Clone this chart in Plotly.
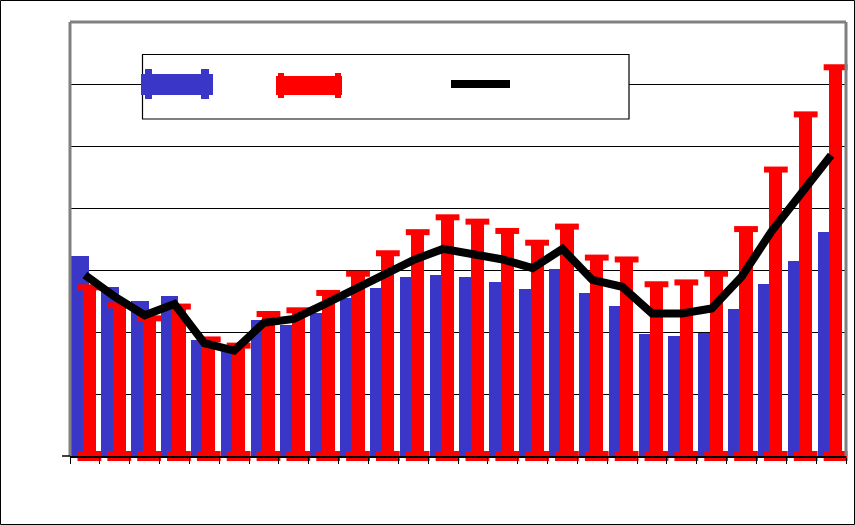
import plotly.graph_objects as go

# ---- data ----
categories = list(range(26))
blue_values = [3.23, 2.73, 2.50, 2.58, 1.87, 1.74, 2.19, 2.11, 2.30, 2.55, 2.71, 2.89, 2.92,
               2.89, 2.81, 2.69, 3.02, 2.63, 2.42, 1.97, 1.94, 1.99, 2.37, 2.77, 3.15, 3.61]
red_values = [2.72, 2.43, 2.22, 2.41, 1.88, 1.78, 2.29, 2.35, 2.63, 2.94, 3.27, 3.61, 3.85,
              3.78, 3.63, 3.44, 3.70, 3.20, 3.17, 2.77, 2.80, 2.94, 3.66, 4.62, 5.51, 6.27]
line_values = [2.92, 2.57, 2.27, 2.45, 1.82, 1.70, 2.15, 2.21, 2.44, 2.68, 2.89, 3.16, 3.34,
               3.27, 3.17, 3.03, 3.34, 2.84, 2.73, 2.30, 2.30, 2.38, 2.89, 3.62, 4.24, 4.85]
y_ticks = [0, 1, 2, 3, 4, 5, 6, 7]

# ---- styling ----
W, H = 855, 525
ML, MR, MT, MB = 70, 9, 22, 69
PW, PH = W - ML - MR, H - MT - MB
BLUE = "#3a37c8"
RED = "#ff0000"
GRAY = "#808080"

BLUE_OFF, BLUE_W = -0.45, 0.58
RED_OFF, RED_W = -0.07, 0.44
red_center = [c + RED_OFF + RED_W / 2 for c in categories]


def px_x(X):
    return (X - ML) / PW


def px_y(Y):
    return (H - MB - Y) / PH


fig = go.Figure()
fig.add_trace(go.Bar(x=categories, y=blue_values, width=BLUE_W, offset=BLUE_OFF,
                     marker=dict(color=BLUE, line=dict(width=0)), showlegend=False))
fig.add_trace(go.Bar(x=categories, y=red_values, width=RED_W, offset=RED_OFF,
                     marker=dict(color=RED, line=dict(width=0)), showlegend=False))
# rounded-looking caps on red bars
fig.add_trace(go.Scatter(x=red_center, y=red_values, mode="markers", cliponaxis=False,
                         marker=dict(symbol="line-ew", size=17, line=dict(color=RED, width=6)),
                         showlegend=False, hoverinfo="skip"))
# blobs under the baseline
fig.add_trace(go.Scatter(x=red_center, y=[0] * len(categories), mode="markers", cliponaxis=False,
                         marker=dict(symbol="line-ew", size=17, line=dict(color=RED, width=10)),
                         showlegend=False, hoverinfo="skip"))
fig.add_trace(go.Scatter(x=categories, y=line_values, mode="lines",
                         line=dict(color="black", width=8), showlegend=False))

shapes = []
# outer border
shapes.append(dict(type="rect", xref="paper", yref="paper",
                   x0=px_x(0.5), x1=px_x(W - 0.5), y0=px_y(H - 0.5), y1=px_y(0.5),
                   line=dict(color="black", width=1), layer="above"))
# gray frame: left, top, right
for x0, y0, x1, y1 in [(0, 0, 0, 1), (0, 1, 1, 1), (1, 0, 1, 1)]:
    shapes.append(dict(type="line", xref="paper", yref="paper", x0=x0, y0=y0, x1=x1, y1=y1,
                       line=dict(color=GRAY, width=3), layer="above"))
# baseline extension to the left
shapes.append(dict(type="line", xref="paper", yref="paper", x0=px_x(62), x1=0, y0=0, y1=0,
                   line=dict(color="black", width=1.5)))
# legend box
shapes.append(dict(type="rect", xref="paper", yref="paper",
                   x0=px_x(142.5), x1=px_x(629), y0=px_y(119), y1=px_y(54.5),
                   line=dict(color="black", width=1.2), fillcolor="white", layer="above"))
# blue swatch
shapes.append(dict(type="rect", xref="paper", yref="paper", x0=px_x(141), x1=px_x(213),
                   y0=px_y(95), y1=px_y(74), line=dict(width=0), fillcolor=BLUE, layer="above"))
for a, b in [(145, 152), (201, 209)]:
    shapes.append(dict(type="rect", xref="paper", yref="paper", x0=px_x(a), x1=px_x(b),
                       y0=px_y(99), y1=px_y(69), line=dict(width=0), fillcolor=BLUE, layer="above"))
# red swatch
shapes.append(dict(type="rect", xref="paper", yref="paper", x0=px_x(276), x1=px_x(342),
                   y0=px_y(95), y1=px_y(76), line=dict(width=0), fillcolor=RED, layer="above"))
for a, b in [(278, 284), (335, 341)]:
    shapes.append(dict(type="rect", xref="paper", yref="paper", x0=px_x(a), x1=px_x(b),
                       y0=px_y(98), y1=px_y(73), line=dict(width=0), fillcolor=RED, layer="above"))
# black line swatch
shapes.append(dict(type="line", xref="paper", yref="paper", x0=px_x(451), x1=px_x(510),
                   y0=px_y(84), y1=px_y(84), line=dict(color="black", width=8), layer="above"))

fig.update_layout(
    width=W, height=H,
    margin=dict(l=ML, r=MR, t=MT, b=MB, pad=0),
    paper_bgcolor="white", plot_bgcolor="white",
    barmode="overlay", bargap=0,
    showlegend=False,
    shapes=shapes,
    xaxis=dict(range=[-0.5, len(categories) - 0.5], tickmode="array",
               tickvals=[c - 0.5 for c in categories] + [len(categories) - 0.5],
               ticks="outside", ticklen=6, tickwidth=1, tickcolor="black",
               showticklabels=False, showgrid=False, zeroline=False,
               showline=True, linecolor="black", linewidth=1.5, fixedrange=True),
    yaxis=dict(range=[0, 7], tickmode="array", tickvals=y_ticks, showticklabels=False,
               showgrid=True, gridcolor="black", gridwidth=1, zeroline=False,
               showline=False, ticks="", fixedrange=True),
)

fig.write_html("out.html", config={"displayModeBar": False},
               post_script="document.body.style.margin='0px';document.body.style.overflow='hidden';")
